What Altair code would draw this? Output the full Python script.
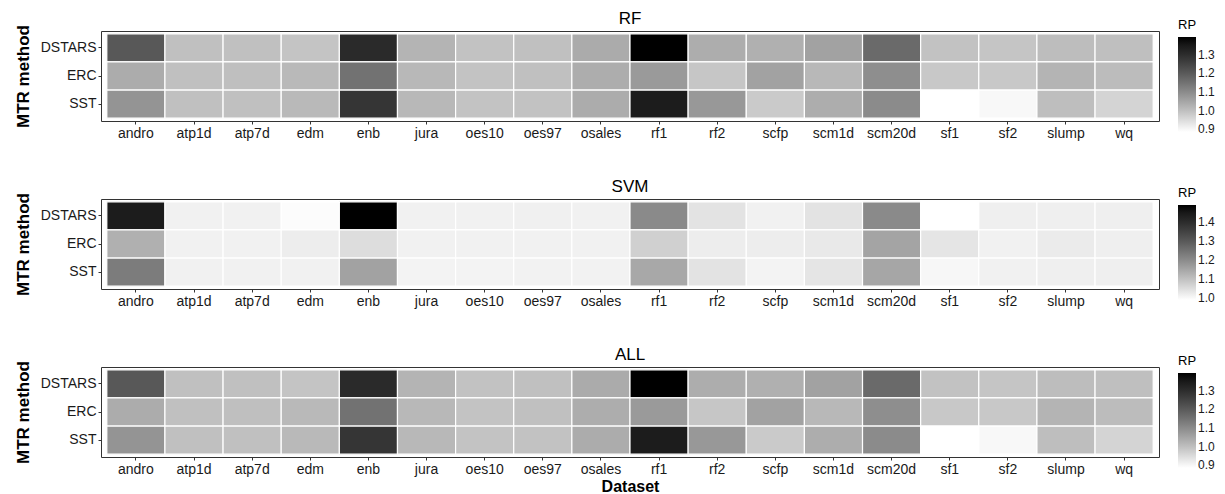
import altair as alt
import pandas as pd

datasets = ["andro", "atp1d", "atp7d", "edm", "enb", "jura", "oes10", "oes97", "osales",
            "rf1", "rf2", "scfp", "scm1d", "scm20d", "sf1", "sf2", "slump", "wq"]
methods = ["DSTARS", "ERC", "SST"]

rf_dstars = [1.204, 0.999, 0.999, 0.991, 1.308, 1.021, 0.995, 0.999, 1.038,
             1.395, 1.034, 1.029, 1.055, 1.167, 0.995, 0.990, 1.004, 1.001]
rf_erc = [1.036, 0.999, 1.001, 1.011, 1.150, 1.014, 0.993, 0.999, 1.034,
          1.071, 0.988, 1.055, 1.014, 1.094, 0.984, 0.984, 1.021, 1.006]
rf_sst = [1.082, 0.999, 0.999, 1.011, 1.282, 1.014, 0.993, 0.995, 1.036,
          1.342, 1.074, 0.980, 1.034, 1.100, 0.885, 0.897, 1.002, 0.962]

svm_dstars = [1.439, 1.014, 1.014, 0.996, 1.490, 1.014, 1.014, 1.016, 1.014,
              1.203, 1.038, 1.014, 1.038, 1.203, 0.990, 1.018, 1.018, 1.018]
svm_erc = [1.131, 1.014, 1.014, 1.022, 1.049, 1.014, 1.014, 1.014, 1.014,
           1.073, 1.022, 1.022, 1.029, 1.153, 1.036, 1.014, 1.025, 1.018]
svm_sst = [1.230, 1.014, 1.014, 1.014, 1.157, 1.010, 1.010, 1.012, 1.012,
           1.145, 1.038, 1.010, 1.036, 1.149, 1.004, 1.014, 1.018, 1.018]

all_dstars = [1.204, 0.999, 0.999, 0.991, 1.308, 1.021, 0.995, 0.999, 1.038,
              1.395, 1.034, 1.029, 1.055, 1.167, 0.995, 0.990, 1.004, 1.001]
all_erc = [1.036, 0.999, 1.001, 1.011, 1.150, 1.014, 0.993, 0.999, 1.034,
           1.071, 0.988, 1.055, 1.014, 1.094, 0.984, 0.984, 1.021, 1.006]
all_sst = [1.082, 0.999, 0.999, 1.011, 1.282, 1.014, 0.993, 0.995, 1.036,
           1.342, 1.074, 0.980, 1.034, 1.100, 0.885, 0.897, 1.002, 0.962]

panels = [
    ("RF", [rf_dstars, rf_erc, rf_sst]),
    ("SVM", [svm_dstars, svm_erc, svm_sst]),
    ("ALL", [all_dstars, all_erc, all_sst]),
]

FONT = "Liberation Sans"
W, H = 1058, 90


def make_panel(name, rows, last):
    recs = []
    for m, vals in zip(methods, rows):
        for d, v in zip(datasets, vals):
            recs.append({"Dataset": d, "Method": m, "RP": v})
    df = pd.DataFrame(recs)
    xaxis = alt.Axis(labelAngle=0, labelFontSize=14, labelColor="#1a1a1a", labelFont=FONT,
                     tickColor="#333333", tickSize=3, labelPadding=2, domain=False,
                     grid=False,
                     title="Dataset" if last else None,
                     titleFontSize=16, titleFontWeight="bold", titleFont=FONT,
                     titleColor="black", titlePadding=2)
    yaxis = alt.Axis(labelFontSize=14, labelColor="#1a1a1a", labelFont=FONT,
                     tickColor="#333333", tickSize=3, labelPadding=2, domain=False,
                     grid=False,
                     title="MTR method", titleFontSize=17, titleFontWeight="bold",
                     titleFont=FONT, titleColor="black", titlePadding=8)
    return alt.Chart(df).mark_rect(stroke="white", strokeWidth=1.2).encode(
        x=alt.X("Dataset:N", sort=datasets,
                scale=alt.Scale(paddingInner=0, paddingOuter=0.1), axis=xaxis),
        y=alt.Y("Method:N", sort=methods,
                scale=alt.Scale(paddingInner=0, paddingOuter=0.1), axis=yaxis),
        color=alt.Color("RP:Q",
                        scale=alt.Scale(range=["#ffffff", "#000000"], interpolate="lab"),
                        legend=alt.Legend(title="RP", orient="none", legendX=W + 19,
                                          legendY=-12, direction="vertical",
                                          gradientLength=95, gradientThickness=18,
                                          format=".1f", tickCount=5,
                                          titleFontSize=13, titleFontWeight="normal",
                                          titleFont=FONT, titleColor="black",
                                          labelFontSize=12, labelFont=FONT,
                                          labelColor="#1a1a1a", titlePadding=5,
                                          gradientStrokeWidth=0)),
    ).properties(
        width=W, height=H,
        title=alt.TitleParams(name, fontSize=17, fontWeight="normal", font=FONT,
                              color="black", anchor="middle", offset=-9, frame="group"),
    )


charts = [make_panel(n, r, i == 2) for i, (n, r) in enumerate(panels)]

chart = alt.vconcat(*charts, spacing=36).resolve_scale(color="independent").configure_view(
    stroke="#333333", strokeWidth=1
).properties(padding={"left": 5, "top": 1, "right": 0, "bottom": 0})

chart.save("out.html", embed_options={"renderer": "svg", "actions": False})
